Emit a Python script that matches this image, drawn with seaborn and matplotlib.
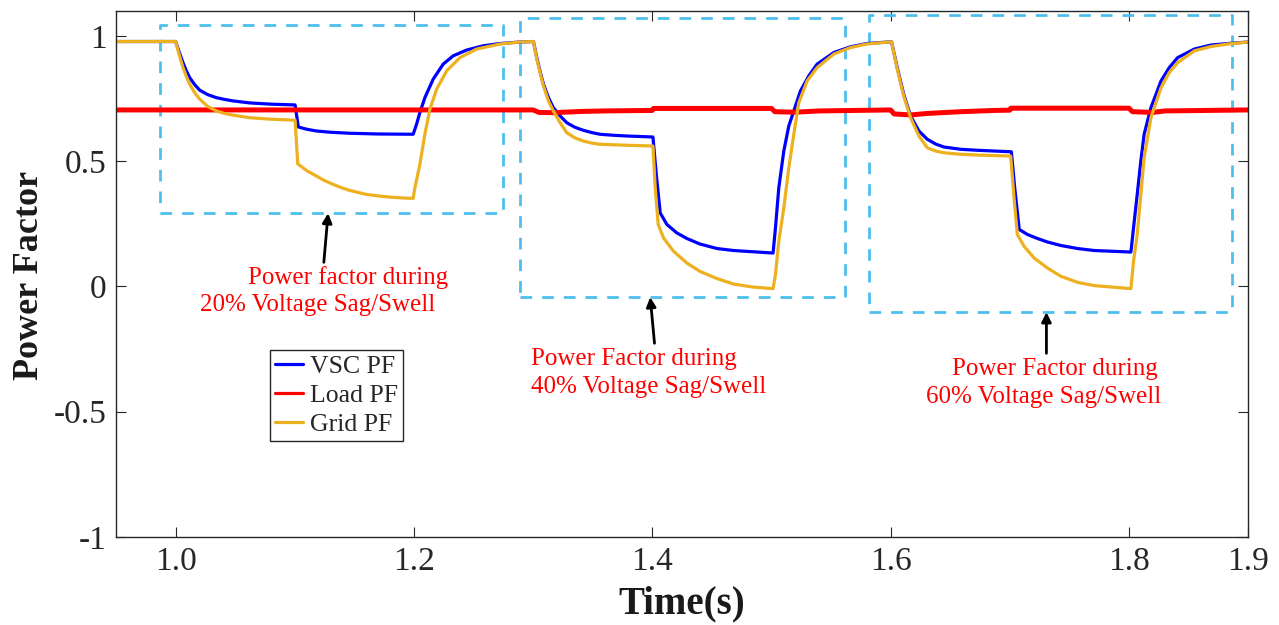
import matplotlib
matplotlib.use("Agg")
import matplotlib.pyplot as plt
import pandas as pd
import seaborn as sns

# ---- power factor traces (time in s) ----
t_vsc = [0.950, 1.000, 1.003, 1.0062, 1.009, 1.0118, 1.016, 1.0202, 1.027, 1.0342, 1.041, 1.0482, 1.0622, 1.080, 1.1003,
         1.1030, 1.110, 1.1182, 1.130, 1.146, 1.170, 1.1994,
         1.2022, 1.2050, 1.2092, 1.2162, 1.2246, 1.2330, 1.2443, 1.2582, 1.2723, 1.2890, 1.3003,
         1.3031, 1.306, 1.3087, 1.3129, 1.3170, 1.3227, 1.3283, 1.335, 1.3420, 1.349, 1.3560, 1.367, 1.3787, 1.390, 1.4006,
         1.4034, 1.4067, 1.4123, 1.4207, 1.4291, 1.4400, 1.4544, 1.4684, 1.5014,
         1.5034, 1.5062, 1.5104, 1.5146, 1.5188, 1.5244, 1.5314, 1.5384, 1.5524, 1.5664, 1.5800, 1.6008,
         1.6056, 1.6110, 1.6168, 1.6238, 1.6308, 1.6378, 1.6448, 1.6588, 1.6730, 1.7014,
         1.7042, 1.7080, 1.7149, 1.7233, 1.7317, 1.7430, 1.7570, 1.7710, 1.8017,
         1.8045, 1.8070, 1.8100, 1.8128, 1.8185, 1.8270, 1.8339, 1.8410, 1.8550, 1.8689, 1.8830, 1.9000]
pf_vsc = [0.977, 0.977, 0.935, 0.893, 0.860, 0.833, 0.805, 0.783, 0.765, 0.753, 0.746, 0.740, 0.732, 0.727, 0.724,
          0.636, 0.627, 0.620, 0.615, 0.611, 0.608, 0.607,
          0.647, 0.693, 0.753, 0.827, 0.887, 0.920, 0.943, 0.960, 0.969, 0.975, 0.977,
          0.913, 0.855, 0.807, 0.753, 0.713, 0.680, 0.653, 0.635, 0.623, 0.614, 0.607, 0.603, 0.600, 0.598, 0.596,
          0.447, 0.293, 0.247, 0.213, 0.191, 0.169, 0.151, 0.143, 0.133,
          0.233, 0.393, 0.540, 0.640, 0.700, 0.780, 0.840, 0.887, 0.933, 0.956, 0.969, 0.976,
          0.873, 0.767, 0.680, 0.620, 0.587, 0.568, 0.556, 0.547, 0.543, 0.537,
          0.393, 0.227, 0.207, 0.191, 0.177, 0.163, 0.151, 0.143, 0.137,
          0.260, 0.367, 0.500, 0.607, 0.713, 0.820, 0.873, 0.913, 0.947, 0.963, 0.969, 0.975]

t_grid = [0.950, 1.000, 1.003, 1.0062, 1.009, 1.0118, 1.016, 1.0202, 1.027, 1.0342, 1.041, 1.0482, 1.0622, 1.080, 1.1003,
          1.1025, 1.110, 1.1182, 1.125, 1.1322, 1.139, 1.1460, 1.153, 1.1600, 1.170, 1.1798, 1.190, 1.1994,
          1.2008, 1.2050, 1.2092, 1.2134, 1.2191, 1.2275, 1.2387, 1.2527, 1.2723, 1.2890, 1.3003,
          1.3031, 1.306, 1.3087, 1.3129, 1.3170, 1.3227, 1.3283, 1.335, 1.3420, 1.349, 1.3560, 1.3787, 1.4006,
          1.4025, 1.4050, 1.4095, 1.4179, 1.4291, 1.4400, 1.4544, 1.4684, 1.4851, 1.5014,
          1.5034, 1.5062, 1.5104, 1.5146, 1.5188, 1.5230, 1.5300, 1.5384, 1.5524, 1.5664, 1.5800, 1.6008,
          1.6056, 1.6110, 1.6168, 1.6238, 1.6308, 1.6378, 1.6448, 1.6588, 1.6730, 1.7008,
          1.7036, 1.7064, 1.7120, 1.7205, 1.7317, 1.7430, 1.7570, 1.7710, 1.8017,
          1.8039, 1.8070, 1.8128, 1.8185, 1.8270, 1.8339, 1.8410, 1.8550, 1.8689, 1.8830, 1.9000]
pf_grid = [0.977, 0.977, 0.925, 0.873, 0.838, 0.807, 0.773, 0.747, 0.718, 0.700, 0.690, 0.683, 0.673, 0.667, 0.663,
           0.489, 0.462, 0.440, 0.422, 0.407, 0.394, 0.383, 0.375, 0.367, 0.361, 0.356, 0.353, 0.351,
           0.393, 0.487, 0.607, 0.707, 0.787, 0.860, 0.913, 0.947, 0.967, 0.975, 0.977,
           0.907, 0.850, 0.800, 0.740, 0.700, 0.653, 0.613, 0.593, 0.580, 0.572, 0.567, 0.563, 0.560,
           0.393, 0.247, 0.193, 0.140, 0.093, 0.060, 0.031, 0.009, -0.003, -0.009,
           0.047, 0.180, 0.313, 0.473, 0.607, 0.733, 0.820, 0.873, 0.927, 0.953, 0.967, 0.976,
           0.867, 0.760, 0.673, 0.600, 0.553, 0.540, 0.533, 0.527, 0.524, 0.520,
           0.353, 0.207, 0.160, 0.113, 0.073, 0.040, 0.016, 0.003, -0.009,
           0.100, 0.207, 0.513, 0.673, 0.793, 0.853, 0.893, 0.940, 0.957, 0.967, 0.975]

t_load = [0.950, 1.300, 1.305, 1.317, 1.340, 1.360, 1.400, 1.401, 1.500, 1.503,
          1.520, 1.540, 1.600, 1.603, 1.617, 1.631, 1.659, 1.687, 1.700, 1.701,
          1.800, 1.803, 1.820, 1.830, 1.900]
pf_load = [0.704, 0.704, 0.694, 0.693, 0.698, 0.700, 0.702, 0.710, 0.710, 0.697,
           0.695, 0.700, 0.704, 0.688, 0.684, 0.690, 0.697, 0.702, 0.703, 0.711,
           0.711, 0.697, 0.694, 0.700, 0.704]

series_names = ["VSC PF", "Load PF", "Grid PF"]

# ---- event regions (t0, t1, pf_low, pf_high) and their notes ----
regions = [(0.9866, 1.2745, 0.292, 1.043),
           (1.289, 1.562, -0.043, 1.069),
           (1.5818, 1.8866, -0.103, 1.084)]
arrows = [((1.1244, 0.096), (1.1280, 0.292)),
          ((1.4019, -0.227), (1.3983, -0.043)),
          ((1.7308, -0.267), (1.7308, -0.103))]
notes = [(1.0605, 0.009, "Power factor during"),
         (1.0202, -0.099, "20% Voltage Sag/Swell"),
         (1.2981, -0.315, "Power Factor during"),
         (1.2981, -0.424, "40% Voltage Sag/Swell"),
         (1.6518, -0.353, "Power Factor during"),
         (1.6294, -0.464, "60% Voltage Sag/Swell")]

x_ticks = [1.0, 1.2, 1.4, 1.6, 1.8, 1.9]
x_ticklabels = ["1.0", "1.2", "1.4", "1.6", "1.8", "1.9"]
y_ticks = [-1, -0.5, 0, 0.5, 1]
y_ticklabels = ["-1", "-0.5", "0", "0.5", "1"]

sns.set_theme(style="ticks")
plt.rcParams["font.family"] = ["Liberation Serif", "DejaVu Serif"]

fig = plt.figure(figsize=(12.79, 6.25), dpi=100)
ax = fig.add_axes([0.0907, 0.1408, 0.8851, 0.8421])

frames = {
    "VSC PF": pd.DataFrame({"Time": t_vsc, "PF": pf_vsc}),
    "Load PF": pd.DataFrame({"Time": t_load, "PF": pf_load}),
    "Grid PF": pd.DataFrame({"Time": t_grid, "PF": pf_grid}),
}
colors = {"VSC PF": "#0000FF", "Load PF": "#FF0000", "Grid PF": "#EDB120"}
widths = {"VSC PF": 2.3, "Load PF": 3.6, "Grid PF": 2.3}

for name in series_names:
    sns.lineplot(data=frames[name], x="Time", y="PF", ax=ax, color=colors[name],
                 linewidth=widths[name], estimator=None, sort=False, label=name)

# dashed frames around each disturbance
for t0, t1, lo, hi in regions:
    ax.plot([t0, t1, t1, t0, t0], [lo, lo, hi, hi, lo], color="#4DBEEE",
            linewidth=2.0, dashes=(4.2, 3.6), zorder=1)

for (tail, head) in arrows:
    ax.annotate("", xy=head, xytext=tail,
                arrowprops=dict(arrowstyle="-|>", color="black", lw=2.0,
                                mutation_scale=14, shrinkA=0, shrinkB=0))

for x, y, s in notes:
    ax.text(x, y, s, color="#FF0000", fontsize=18, ha="left", va="baseline")

ax.set_xlim(0.95, 1.9)
ax.set_ylim(-1.0, 1.1)
ax.set_xticks(x_ticks)
ax.set_xticklabels(x_ticklabels)
ax.set_yticks(y_ticks)
ax.set_yticklabels(y_ticklabels)
ax.tick_params(direction="in", length=7.5, width=0.8, top=True, right=True,
               labelsize=24, colors="#262626", pad=7)
for sp in ax.spines.values():
    sp.set_color("#262626")
    sp.set_linewidth(1.0)
ax.set_xlabel("")
ax.set_ylabel("")

fig.text(0.533, 0.018, "Time(s)", fontsize=28, fontweight="bold",
         ha="center", va="baseline", color="#1a1a1a")
fig.text(0.023, 0.56, "Power Factor", fontsize=26, fontweight="bold",
         rotation=90, ha="center", va="center", color="#1a1a1a")

leg = ax.legend(loc="upper left", bbox_to_anchor=(0.136, 0.355), borderaxespad=0,
                fontsize=18.5, frameon=True, fancybox=False, framealpha=1,
                edgecolor="#262626", handlelength=1.1, handletextpad=0.25,
                labelspacing=0.22, borderpad=0.2)
leg.get_frame().set_linewidth(1.0)
for line in leg.get_lines():
    line.set_linewidth(2.3)

fig.savefig("out.png", dpi=100)
